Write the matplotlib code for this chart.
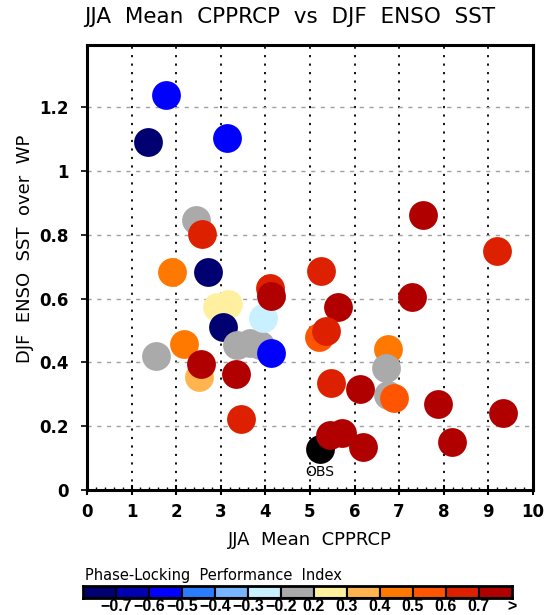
import matplotlib
matplotlib.use("Agg")
import matplotlib.pyplot as plt

# colour classes of the Phase-Locking Performance Index
class_colors = ["#000070", "#0000B0", "#0000FF", "#2A7DFF", "#78B4FF", "#C8F0FF",
                "#AAAAAA", "#FFF0A0", "#FFB450", "#FF7800", "#FF5500", "#DC2000", "#B00000"]
class_labels = ["\u22120.7", "\u22120.6", "\u22120.5", "\u22120.4", "\u22120.3", "\u22120.2",
                "0.2", "0.3", "0.4", "0.5", "0.6", "0.7", ">"]

# models (drawing order matters for overlaps)
cpprcp = [1.77, 1.37, 3.14, 2.44, 2.58, 1.91, 2.71, 2.91, 3.16, 3.05,
          1.55, 2.17, 2.51, 2.56, 3.34, 3.45, 3.36, 3.65, 3.88, 3.95,
          4.13, 4.10, 4.12, 7.53, 9.19, 5.25, 7.28, 5.62, 5.21, 5.36,
          6.75, 6.75, 6.70, 6.88, 5.47, 6.12, 7.87, 9.33, 5.45, 5.72,
          6.19, 8.18]
enso_sst = [1.238, 1.091, 1.104, 0.846, 0.802, 0.683, 0.683, 0.574, 0.583, 0.511,
            0.420, 0.458, 0.354, 0.395, 0.364, 0.223, 0.455, 0.461, 0.455, 0.539,
            0.429, 0.633, 0.608, 0.862, 0.749, 0.687, 0.605, 0.573, 0.479, 0.498,
            0.442, 0.298, 0.382, 0.289, 0.335, 0.317, 0.270, 0.241, 0.172, 0.179,
            0.135, 0.150]
plpi_class = [2, 0, 2, 6, 11, 9, 0, 7, 7, 0,
              6, 9, 8, 12, 12, 11, 6, 6, 6, 5,
              2, 11, 12, 12, 11, 11, 12, 12, 10, 11,
              9, 6, 6, 10, 11, 12, 12, 12, 12, 12,
              12, 12]
obs_x, obs_y = 5.22, 0.129

fig = plt.figure(figsize=(5.45, 6.15), dpi=100)
ax = fig.add_axes([0.1596, 0.2033, 0.8183, 0.7236])

for xv in range(1, 10):
    ax.axvline(xv, color="black", lw=1.3, ls=(0, (1.2, 3.5)), zorder=1)
for yv in [0.2, 0.4, 0.6, 0.8, 1.0, 1.2]:
    ax.axhline(yv, color="#A0A0A0", lw=1.0, ls=(0, (3, 4)), zorder=1)

ax.scatter([obs_x], [obs_y], s=430, color="black", zorder=3, linewidths=0)
ax.text(obs_x, obs_y - 0.074, "OBS", ha="center", va="center", fontsize=10, zorder=4)
for xv, yv, c in zip(cpprcp, enso_sst, plpi_class):
    ax.scatter([xv], [yv], s=430, color=class_colors[c], zorder=3, linewidths=0)

ax.set_xlim(0, 10)
ax.set_ylim(0, 1.395)
ax.set_xticks(range(0, 11))
ax.set_yticks([0, 0.2, 0.4, 0.6, 0.8, 1.0, 1.2])
ax.set_yticklabels(["0", "0.2", "0.4", "0.6", "0.8", "1", "1.2"])
ax.set_xticks([i * 0.2 for i in range(51)], minor=True)
ax.tick_params(axis="x", which="major", direction="inout", length=7, width=1.5, labelsize=12, pad=6)
ax.tick_params(axis="x", which="minor", direction="in", length=2, width=1.0)
ax.tick_params(axis="y", which="major", direction="out", length=4, width=1.2, labelsize=12, pad=9)
for lab in ax.get_xticklabels() + ax.get_yticklabels():
    lab.set_fontweight("bold")
for sp in ax.spines.values():
    sp.set_linewidth(2.2)

fig.text(0.532, 0.972, "JJA  Mean  CPPRCP  vs  DJF  ENSO  SST", ha="center", va="center", fontsize=15.5)
fig.text(0.569, 0.122, "JJA  Mean  CPPRCP", ha="center", va="center", fontsize=13)
fig.text(0.046, 0.595, "DJF  ENSO  SST  over  WP", ha="center", va="center", fontsize=13, rotation=90)

# colorbar
cax = fig.add_axes([0.1523, 0.0276, 0.787, 0.0195])
cax.bar(range(13), 1, width=1, align="edge", color=class_colors, edgecolor="black", linewidth=1.5)
cax.set_xlim(0, 13)
cax.set_ylim(0, 1)
cax.set_yticks([])
cax.set_xticks(range(1, 14))
cax.set_xticklabels(class_labels)
cax.tick_params(axis="x", length=0, pad=1, labelsize=11.5)
for lab in cax.get_xticklabels():
    lab.set_family("Liberation Sans")
    lab.set_fontweight("bold")
for sp in cax.spines.values():
    sp.set_linewidth(2)
fig.text(0.156, 0.065, "Phase-Locking  Performance  Index", ha="left", va="center", fontsize=10.5)

fig.savefig("out.png", dpi=100)
